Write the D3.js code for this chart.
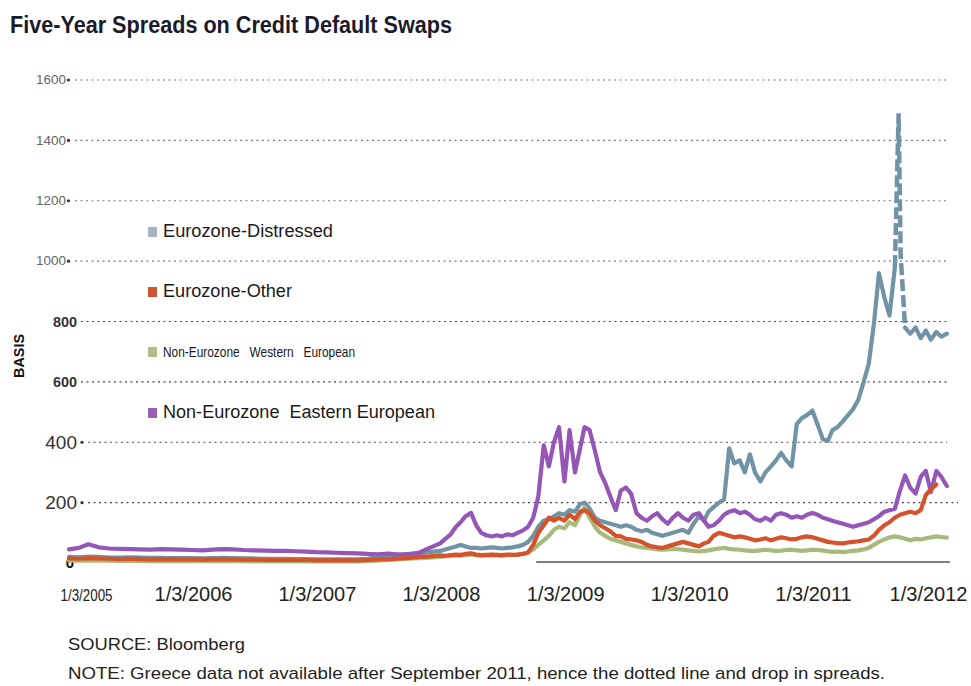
<!DOCTYPE html>
<html><head><meta charset="utf-8">
<script src="https://cdn.jsdelivr.net/npm/d3@7/dist/d3.min.js"></script>
<style>body{margin:0;background:#fff}svg{display:block}</style>
</head><body><svg id="c" width="971" height="686"></svg>
<script>
// ---------- DATA ----------
const earlyDates = ["2005-01-03","2005-02-01","2005-03-01","2005-04-01","2005-05-01","2005-06-01","2005-07-01","2005-08-01","2005-09-01","2005-10-01","2005-11-01","2005-12-01",
"2006-01-01","2006-02-01","2006-03-01","2006-04-01","2006-05-01","2006-06-01","2006-07-01","2006-08-01","2006-09-01","2006-10-01","2006-11-01","2006-12-01",
"2007-01-01","2007-02-01","2007-03-01","2007-04-01","2007-05-01","2007-06-01","2007-07-01","2007-08-01","2007-09-01","2007-10-01","2007-11-01","2007-12-01"];
const lateDates = ["2008-01-01","2008-01-16","2008-02-01","2008-02-16","2008-03-01","2008-03-16","2008-04-01","2008-04-16","2008-05-01","2008-05-16","2008-06-01","2008-06-16","2008-07-01","2008-07-16","2008-08-01","2008-08-16","2008-09-01","2008-09-16","2008-10-01","2008-10-16","2008-11-01","2008-11-16","2008-12-01","2008-12-16",
"2009-01-01","2009-01-16","2009-02-01","2009-02-16","2009-03-01","2009-03-16","2009-04-01","2009-04-16","2009-05-01","2009-05-16","2009-06-01","2009-06-16","2009-07-01","2009-07-16","2009-08-01","2009-08-16","2009-09-01","2009-09-16","2009-10-01","2009-10-16","2009-11-01","2009-11-16","2009-12-01","2009-12-16",
"2010-01-01","2010-01-16","2010-02-01","2010-02-16","2010-03-01","2010-03-16","2010-04-01","2010-04-16","2010-05-01","2010-05-16","2010-06-01","2010-06-16","2010-07-01","2010-07-16","2010-08-01","2010-08-16","2010-09-01","2010-09-16","2010-10-01","2010-10-16","2010-11-01","2010-11-16","2010-12-01","2010-12-16",
"2011-01-01","2011-01-16","2011-02-01","2011-02-16","2011-03-01","2011-03-16","2011-04-01","2011-04-16","2011-05-01","2011-05-16","2011-06-01","2011-06-16","2011-07-01","2011-07-16","2011-08-01","2011-08-16","2011-09-01","2011-09-16","2011-10-01","2011-10-16","2011-11-01","2011-11-16","2011-12-01","2011-12-16",
"2012-01-01","2012-01-16","2012-02-01"];

// Eurozone-Distressed (basis points)
const distressedEarly = [20,19,21,20,18,18,19,18,17,17,16,16, 16,15,16,17,16,15,15,14,14,14,13,13, 12,12,12,12,12,14,20,25,28,30,33,36];
const distressedLate = [40,45,50,55,60,55,50,50,48,50, 52,50,48,50,52,55,60,70,90,120, 140,145,155,165,160,175,170,195,200,180,
150,140,135,130,125,120,125,120,110,105, 110,100,95,90,95,100,105,110,100,130, 155,140,170,185,200,210,380,330,340,300,
360,300,270,300,320,340,365,340,320,460, 480,490,505,460,410,405,440,450,470,490, 510,540,600,660,790,960,880,820,980,null,
780,760,780,745,770,740,765,750,760];
// dotted Greek segment (Sept 2011)
const distressedDotted = [["2011-09-01",980],["2011-09-12",1490],["2011-09-18",1020],["2011-10-01",780]];

// Eurozone-Other
const otherEarly = [15,14,16,15,14,13,14,13,12,13,12,12, 12,11,12,13,12,11,11,10,10,10,10,10, 9,9,9,9,9,10,12,13,15,17,20,22];
const otherLate = [25,24,26,28,27,30,32,28,26,27, 28,27,26,28,27,28,30,35,60,100, 125,150,140,150,140,160,145,170,175,165,
140,125,115,105,90,88,80,78,75,70, 60,55,52,50,55,60,65,70,65,60, 55,65,70,90,100,95,90,85,88,85,
80,75,78,82,75,80,85,82,78,80, 85,88,85,80,75,70,68,66,65,68, 70,72,75,78,90,110,125,135,150,160,
165,170,165,175,225,245,260,null,null];

// Non-Eurozone Western European
const westernEarly = [8,8,9,8,8,7,7,7,6,6,6,6, 6,6,6,7,6,6,5,5,5,5,5,5, 5,5,5,5,5,6,8,10,12,14,16,18];
const westernLate = [20,22,24,25,24,26,28,25,24,25, 26,25,24,26,27,28,30,35,45,60, 75,90,110,120,115,135,125,160,185,150,
120,100,90,80,75,70,65,60,55,52, 50,48,45,44,45,47,46,44,42,40, 38,40,42,45,48,50,47,45,44,42,
40,40,42,44,42,40,41,43,44,42, 40,42,44,43,41,39,37,38,36,38, 40,42,45,50,60,70,78,85,88,85,
80,75,80,78,82,85,88,86,84];

// Non-Eurozone Eastern European
const easternEarly = [45,50,62,52,48,47,46,45,44,46,45,44, 43,42,44,46,45,43,42,41,40,40,39,38, 36,35,34,33,32,30,29,31,28,28,35,50];
const easternLate = [65,80,95,119,135,155,166,125,100,92, 88,92,88,95,92,100,108,120,150,220, 390,320,400,450,270,440,300,380,450,440,
370,300,265,220,175,240,250,230,165,150, 140,155,165,145,130,150,165,150,140,160, 165,140,120,125,140,160,170,175,165,170,
160,145,140,150,140,160,165,160,150,155, 150,160,166,160,150,145,140,135,130,125, 120,125,130,135,145,155,170,175,180,240,
290,250,230,285,305,235,305,285,255];

const seriesNames = ["Eurozone-Distressed","Eurozone-Other","Non-Eurozone   Western   European","Non-Eurozone  Eastern European"];
const yTicks = [0,200,400,600,800,1000,1200,1400,1600];
const xTickDates = ["2005-01-03","2006-01-03","2007-01-03","2008-01-03","2009-01-03","2010-01-03","2011-01-03","2012-01-03"];
const xTickLabels = ["1/3/2005","1/3/2006","1/3/2007","1/3/2008","1/3/2009","1/3/2010","1/3/2011","1/3/2012"];
const titleText = "Five-Year Spreads on Credit Default Swaps";
const yAxisTitle = "BASIS";
const sourceText = "SOURCE: Bloomberg";
const noteText = "NOTE: Greece data not available after September 2011, hence the dotted line and drop in spreads.";

// ---------- CHART ----------
const parse = d3.timeParse("%Y-%m-%d");
const dates = earlyDates.concat(lateDates).map(parse);
const svg = d3.select("#c");
const SANS = "'Liberation Sans',Arial,sans-serif";

const x = d3.scaleTime().domain([parse("2005-01-03"), parse("2012-01-03")]).range([69, 937]);
const y = d3.scaleLinear().domain([0, 1600]).range([563, 80]);

// title
svg.append("text").attr("x", 10).attr("y", 33).attr("font-family", SANS).attr("font-weight", "bold")
  .attr("font-size", 23).attr("fill", "#1a1a2a").attr("textLength", 442).attr("lengthAdjust", "spacingAndGlyphs").text(titleText);

// gridlines
const gridStart = v => v >= 1000 ? 75 : (v >= 600 ? 81 : 88);
const gridEnd = v => v === 200 ? 958 : 947;
svg.append("g").selectAll("line").data(yTicks.filter(v => v > 0)).join("line")
  .attr("x1", d => gridStart(d)).attr("x2", d => gridEnd(d))
  .attr("y1", d => y(d)).attr("y2", d => y(d))
  .attr("stroke", d => d >= 1000 ? "#777" : "#444").attr("stroke-width", 1.2)
  .attr("stroke-dasharray", "2,3.5");
svg.append("g").selectAll("circle").data(yTicks.filter(v => v >= 1000 || v <= 400).filter(v => v > 0)).join("circle")
  .attr("cx", d => d >= 1000 ? 68.5 : 82).attr("cy", d => y(d)).attr("r", 1.6).attr("fill", "#333");

// y axis labels
const yAxis = svg.append("g").attr("transform", "translate(66,0)")
  .call(d3.axisLeft(y).tickValues(yTicks).tickFormat(d3.format("d")).tickSize(0).tickPadding(0));
yAxis.select(".domain").remove();
yAxis.selectAll(".tick text").each(function(d) {
  const t = d3.select(this);
  if (d >= 1000) t.attr("font-family", SANS).attr("font-size", 12).attr("fill", "#666").attr("x", 0)
    .attr("textLength", 30).attr("lengthAdjust", "spacingAndGlyphs");
  else if (d >= 600) t.attr("font-family", SANS).attr("font-size", 15).attr("font-weight", "bold").attr("fill", "#333").attr("x", 11)
    .attr("textLength", 24).attr("lengthAdjust", "spacingAndGlyphs");
  else if (d > 0) t.attr("font-family", SANS).attr("font-size", 19).attr("fill", "#333").attr("x", 11);
  else t.attr("font-family", SANS).attr("font-size", 15).attr("font-weight", "bold").attr("fill", "#111").attr("x", 8);
});

// y axis title
svg.append("text").attr("transform", "translate(24,356) rotate(-90)").attr("text-anchor", "middle")
  .attr("font-family", SANS).attr("font-weight", "bold").attr("font-size", 14).attr("fill", "#111")
  .attr("textLength", 44).attr("lengthAdjust", "spacingAndGlyphs").text(yAxisTitle);

// baseline
svg.append("line").attr("x1", x(parse("2008-10-10"))).attr("x2", 950).attr("y1", y(0) - 1).attr("y2", y(0) - 1)
  .attr("stroke", "#555").attr("stroke-width", 1.5);

// series
const series = [
  {name: seriesNames[0], vals: distressedEarly.concat(distressedLate), color: "#7094a6"},
  {name: seriesNames[2], vals: westernEarly.concat(westernLate), color: "#a8b97c"},
  {name: seriesNames[3], vals: easternEarly.concat(easternLate), color: "#9457b8"},
  {name: seriesNames[1], vals: otherEarly.concat(otherLate), color: "#d4532b"}
];
const line = d3.line().defined(d => d[1] != null).x(d => x(d[0])).y(d => y(d[1]));
const lg = svg.append("g");
series.forEach(s => {
  lg.append("path").datum(dates.map((d, i) => [d, s.vals[i]]))
    .attr("d", line).attr("fill", "none").attr("stroke", s.color)
    .attr("stroke-width", 4.2).attr("stroke-linejoin", "round").attr("stroke-linecap", "round");
});
lg.insert("path", ":nth-child(2)").datum(distressedDotted.map(d => [parse(d[0]), d[1]]))
  .attr("d", line).attr("fill", "none").attr("stroke", "#7094a6").attr("stroke-width", 4.5)
  .attr("stroke-dasharray", "12,4");

// legend
const legendItems = [
  {label: seriesNames[0], color: "#a3b4bc", yb: 237, size: 18, len: 170},
  {label: seriesNames[1], color: "#c9562f", yb: 297, size: 18, len: 129},
  {label: seriesNames[2], color: "#b1bc88", yb: 357, size: 15, len: 192},
  {label: seriesNames[3], color: "#9b5fb2", yb: 418, size: 18, len: 272}
];
const leg = svg.append("g").selectAll("g").data(legendItems).join("g");
leg.append("rect").attr("x", 148).attr("y", d => d.yb - 10).attr("width", 9).attr("height", 10).attr("fill", d => d.color);
leg.append("text").attr("x", 163).attr("y", d => d.yb).attr("font-family", SANS).attr("font-size", d => d.size)
  .attr("fill", "#1a1a1a").attr("textLength", d => d.len).attr("lengthAdjust", "spacingAndGlyphs")
  .style("white-space", "pre").text(d => d.label);

// x axis labels
const xAxis = svg.append("g").attr("transform", "translate(0,601)")
  .call(d3.axisBottom(x).tickValues(xTickDates.map(parse)).tickFormat((d, i) => xTickLabels[i]).tickSize(0).tickPadding(0));
xAxis.select(".domain").remove();
xAxis.selectAll(".tick text").attr("dy", 0).attr("y", 0).attr("font-family", SANS).attr("font-size", 20).attr("fill", "#222")
  .each(function(d, i) {
    const t = d3.select(this);
    if (i === 0) t.attr("font-size", 17).attr("text-anchor", "start").attr("x", -9)
      .attr("textLength", 52).attr("lengthAdjust", "spacingAndGlyphs");
    if (i === xTickLabels.length - 1) t.attr("x", -9);
  });

// source / note
svg.append("text").attr("x", 68).attr("y", 650).attr("font-family", SANS).attr("font-size", 17).attr("fill", "#222")
  .attr("textLength", 177).attr("lengthAdjust", "spacingAndGlyphs").text(sourceText);
svg.append("text").attr("x", 68).attr("y", 679).attr("font-family", SANS).attr("font-size", 17).attr("fill", "#222")
  .attr("textLength", 817).attr("lengthAdjust", "spacingAndGlyphs").text(noteText);
</script></body></html>
